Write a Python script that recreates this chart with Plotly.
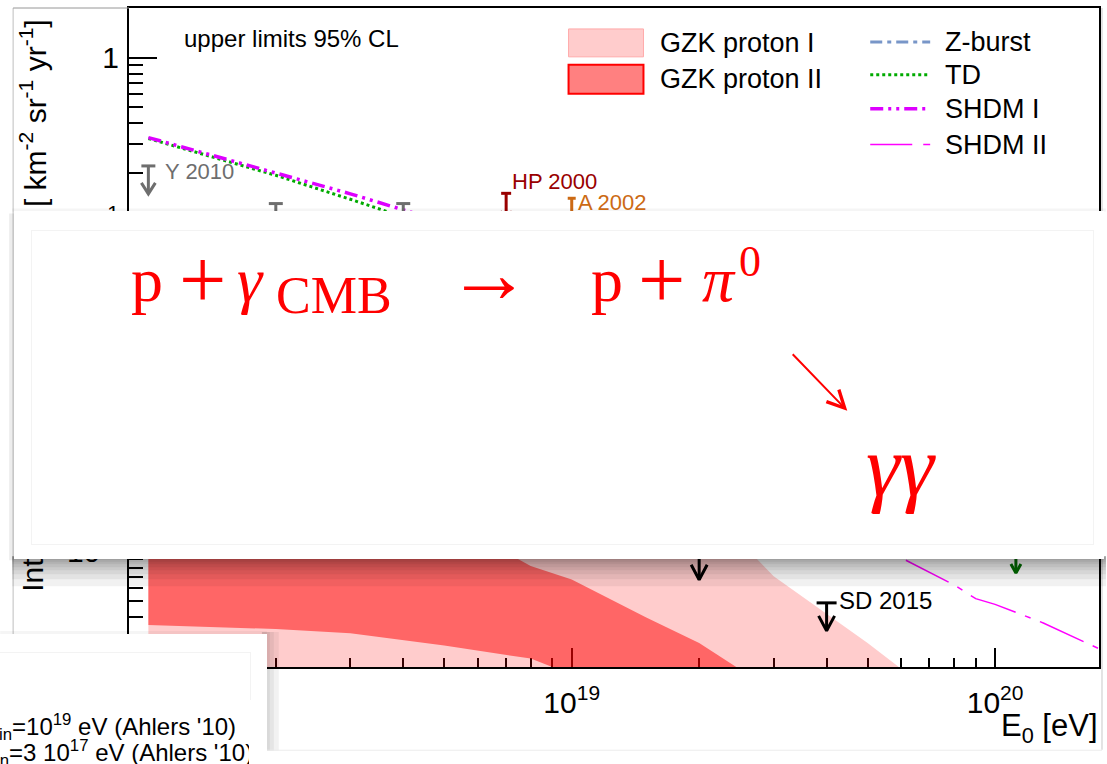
import numpy as np
import plotly.graph_objects as go

W, H = 1107, 764
L, R, T, B = 129, 7, 6, 97          # frame: x 129..1100, y 6..667

# ---------------- data (E in eV, flux in km^-2 sr^-1 yr^-1) ----------------
gzk_E = [1e18, 2e18, 3e18, 5e18, 8e18, 1e19, 1.5e19, 2e19, 2.5e19, 3e19, 5e19, 1e20, 1.75e20]
gzk1_hi = [2.5e-2, 1.78e-2, 1.41e-2, 8.9e-3, 5.0e-3, 3.55e-3, 1.78e-3, 1.41e-3, 1.15e-3, 7.1e-4, 2.8e-4, 7.1e-5, 1.6e-5]
gzk1_lo = [1.0e-4, 7.9e-5, 7.1e-5, 5.6e-5, 4.5e-5, 4.0e-5, 2.8e-5, 2.2e-5, 1.8e-5, 1.6e-5, 1.0e-5, 2.5e-6, 1.0e-6]
gzk2_hi = [5.0e-3, 3.55e-3, 2.5e-3, 1.6e-3, 8.2e-4, 6.8e-4, 4.0e-4, 2.8e-4, 1.93e-4, 1.4e-4, 5.0e-5, 1.26e-5, 5.0e-6]
gzk2_lo = [3.6e-4, 3.4e-4, 3.2e-4, 2.7e-4, 2.25e-4, 1.8e-4, 1.0e-4, 6.3e-5, 5.0e-5, 4.0e-5, 2.0e-5, 6.3e-6, 3.2e-6]

model_E = [1e18, 2e18, 3e18, 5e18, 1e19, 3e19, 1e20, 1.75e20]
zburst_flux = [3.0e-2, 2.6e-2, 2.3e-2, 1.9e-2, 1.4e-2, 6.0e-3, 2.2e-3, 1.5e-3]
td_flux = [0.323, 0.193, 0.138, 0.089, 0.045, 0.018, 0.0075, 0.005]
shdm1_flux = [0.327, 0.198, 0.149, 0.10, 0.06, 0.03, 0.013, 0.009]

shdm2_E = [1e19, 2e19, 3e19, 5e19, 6e19, 8e19, 9e19, 1e20, 1.3e20, 1.75e20]
shdm2_flux = [8e-3, 4e-3, 2.5e-3, 1.2e-3, 9.2e-4, 6.3e-4, 5.2e-4, 4.8e-4, 3.7e-4, 2.6e-4]

# upper limits
y2010_E, y2010_F = [1e18, 2e18, 4e18], [0.22, 0.13, 0.13]
hp2000_E, hp2000_F = [7e18], [0.15]
a2002_E, a2002_F = [1e19], [0.14]
sd2015_E, sd2015_F = [1e19, 2e19, 4e19], [1.9e-3, 1.0e-3, 4.9e-4]
other_E, other_F = [1.12e20], [1.1e-3]

xrange_log = [np.log10(9e17), np.log10(1.76e20)]
yrange_log = [np.log10(2e-4), np.log10(2)]
XDEC = (W - L - R) / (xrange_log[1] - xrange_log[0])   # px per decade
YDEC = (H - T - B) / (yrange_log[1] - yrange_log[0])


def px(x):
    return (x - L) / (W - L - R)


def py(y):
    return (H - B - y) / (H - T - B)


def ul_path(E, F, bar=7, head_w=7, head_h=11, length=28):
    xs, ys = [], []
    for e, f in zip(E, F):
        db, dh = bar / XDEC, head_w / XDEC
        dl, dhh = length / YDEC, head_h / YDEC
        tip = f * 10 ** -dl
        xs += [e * 10 ** -db, e * 10 ** db, None, e, e, None,
               e * 10 ** -dh, e, e * 10 ** dh, None]
        ys += [f, f, None, f, tip, None,
               tip * 10 ** dhh, tip, tip * 10 ** dhh, None]
    return xs, ys


fig = go.Figure()

# GZK bands
fig.add_trace(go.Scatter(x=gzk_E + gzk_E[::-1], y=gzk1_hi + gzk1_lo[::-1], fill="toself",
                         fillcolor="rgba(255,0,0,0.2)", line=dict(width=0), mode="lines"))
fig.add_trace(go.Scatter(x=gzk_E + gzk_E[::-1], y=gzk2_hi + gzk2_lo[::-1], fill="toself",
                         fillcolor="rgba(255,0,0,0.5)", line=dict(width=0), mode="lines"))

# model lines
fig.add_trace(go.Scatter(x=model_E, y=zburst_flux, mode="lines",
                         line=dict(color="rgb(120,150,200)", width=3, dash="12px,5px,4px,5px")))
fig.add_trace(go.Scatter(x=model_E, y=td_flux, mode="lines",
                         line=dict(color="rgb(0,170,0)", width=3, dash="3px,3px")))
fig.add_trace(go.Scatter(x=model_E, y=shdm1_flux, mode="lines",
                         line=dict(color="rgb(221,0,255)", width=3.5, dash="13px,5px,3px,5px,3px,5px")))
fig.add_trace(go.Scatter(x=shdm2_E, y=shdm2_flux, mode="lines",
                         line=dict(color="rgb(255,0,255)", width=1.5, dash="48px,10px,6px,10px")))

# upper limit arrows
for E, F, col, kw in [
    (y2010_E, y2010_F, "rgb(110,110,110)", dict(bar=7, head_w=7, head_h=11)),
    (hp2000_E, hp2000_F, "rgb(153,0,0)", dict(bar=5, head_w=6, head_h=10)),
    (a2002_E, a2002_F, "rgb(204,106,20)", dict(bar=4, head_w=6, head_h=10)),
    (sd2015_E, sd2015_F, "black", dict(bar=10, head_w=8, head_h=15)),
    (other_E, other_F, "rgb(0,110,0)", dict(bar=5, head_w=5, head_h=9)),
]:
    xs, ys = ul_path(E, F, **kw)
    fig.add_trace(go.Scatter(x=xs, y=ys, mode="lines", line=dict(color=col, width=3)))

minor_x = [k * 10.0 ** e for e in (17, 18, 19, 20) for k in range(2, 10)]
minor_y = [k * 10.0 ** e for e in (-4, -3, -2, -1, 0) for k in range(2, 10)]

fig.update_xaxes(type="log", range=xrange_log, showgrid=False, zeroline=False,
                 showline=True, linecolor="black", linewidth=2, mirror=True,
                 ticks="inside", ticklen=19, tickwidth=1.5, tickcolor="black",
                 tickvals=[1e18, 1e19, 1e20],
                 ticktext=["10<sup>18</sup>", "10<sup>19</sup>", "10<sup>20</sup>"],
                 ticklabelstandoff=8, layer="below traces",
                 tickfont=dict(family="Liberation Sans, Arial", size=30, color="black"),
                 minor=dict(tickmode="array", tickvals=minor_x, ticks="inside",
                            ticklen=9, tickwidth=1.5, tickcolor="black"))
fig.update_yaxes(type="log", range=yrange_log, showgrid=False, zeroline=False,
                 showline=True, linecolor="black", linewidth=2, mirror=True,
                 ticks="inside", ticklen=28, tickwidth=1.5, tickcolor="black",
                 tickvals=[1e-3, 1e-2, 1e-1, 1],
                 ticktext=["10<sup>-3</sup>", "10<sup>-2</sup>", "10<sup>-1</sup>", "1"],
                 ticklabelstandoff=2, layer="below traces",
                 tickfont=dict(family="Liberation Sans, Arial", size=30, color="black"),
                 minor=dict(tickmode="array", tickvals=minor_y, ticks="inside",
                            ticklen=14, tickwidth=1.5, tickcolor="black"))

SANS = "Liberation Sans, Arial"
SERIF = "Liberation Serif, Times New Roman"
RED = "rgb(255,0,0)"
ann = []
shapes = []


def text(t, x, y, size, color="black", xa="left", ya="middle", family=SANS, angle=0):
    ann.append(dict(text=t, x=px(x), y=py(y), xref="paper", yref="paper", xanchor=xa, yanchor=ya,
                    showarrow=False, textangle=angle, borderpad=0,
                    font=dict(family=family, size=size, color=color)))


def box(x0, y0, x1, y1, bg="white", border="rgba(0,0,0,0)"):
    ann.append(dict(text=" ", x=px(x0), y=py(y0), xref="paper", yref="paper", xanchor="left",
                    yanchor="top", showarrow=False, width=x1 - x0, height=y1 - y0,
                    bgcolor=bg, bordercolor=border, borderwidth=1 if border != "rgba(0,0,0,0)" else 0,
                    borderpad=0))


def hline(x0, x1, y, color, width, dash="solid"):
    shapes.append(dict(type="line", xref="paper", yref="paper", x0=px(x0), x1=px(x1), y0=py(y), y1=py(y),
                       line=dict(color=color, width=width, dash=dash), layer="above"))


def rect(x0, y0, x1, y1, fill, line=None, lw=0):
    shapes.append(dict(type="rect", xref="paper", yref="paper", x0=px(x0), x1=px(x1), y0=py(y1), y1=py(y0),
                       fillcolor=fill, line=dict(color=line or fill, width=lw), layer="above"))


# labels on the plot
text("upper limits 95% CL", 183, 37, 24)
text("Y 2010", 164, 170, 22, "rgb(110,110,110)")
text("HP 2000", 511, 180, 22, "rgb(153,0,0)")
text("A 2002", 577, 201, 22, "rgb(204,106,20)")
text("SD 2015", 839, 600, 24)
text("E<sub>0</sub> [eV]", 1100, 728, 31, xa="right")

# axis title pieces (the middle is hidden under the overlay)
text("Integral photon flux", 33, 593, 30, xa="center", ya="bottom", angle=-90)
text("[ km<sup>-2</sup> sr<sup>-1</sup> yr<sup>-1</sup>]", 33, 16, 30, xa="center", ya="top", angle=-90)

# legend
rect(569, 27, 644, 55, "rgb(255,204,204)", "rgb(255,170,170)", 1)
rect(569, 63, 644, 92, "rgb(255,128,128)", "rgb(255,0,0)", 2)
text("GZK proton I", 660, 41, 27)
text("GZK proton II", 660, 77, 27)
hline(871, 931, 40, "rgb(120,150,200)", 3, "12px,5px,4px,5px")
hline(871, 931, 73, "rgb(0,170,0)", 3, "3px,3px")
hline(871, 931, 107, "rgb(221,0,255)", 3.5, "13px,5px,3px,5px,3px,5px")
hline(871, 931, 143, "rgb(255,0,255)", 1.5, "42px,11px,7px,11px")
text("Z-burst", 945, 40, 27)
text("TD", 945, 73, 27)
text("SHDM I", 945, 107, 27)
text("SHDM II", 945, 143, 27)

# slide image border
shapes.append(dict(type="line", xref="paper", yref="paper", x0=px(13), x1=px(13), y0=py(6), y1=py(750),
                   line=dict(color="rgb(190,190,190)", width=1), layer="above"))
hline(13, 129, 6, "rgb(150,150,150)", 1)
shapes.append(dict(type="line", xref="paper", yref="paper", x0=px(1103), x1=px(1103), y0=py(6), y1=py(750),
                   line=dict(color="rgb(200,200,200)", width=1), layer="above"))

# shadows of the overlay panels
for h in (2, 4, 6, 9, 12, 16, 21, 28):
    rect(12, 556, 1107, 558 + h, "rgba(0,0,0,0.055)")
rect(9, 212, 14, 560, "rgba(0,0,0,0.07)")
rect(12, 207, 1107, 210, "rgba(0,0,0,0.04)")
for w in (3, 7, 12):
    rect(262, 632, 267 + w, 764, "rgba(0,0,0,0.05)")
rect(0, 631, 267, 634, "rgba(0,0,0,0.04)")

# the plot picture ends at y=750; below it is the blank slide
box(267, 751, 1107, 770)
hline(13, 1103, 750.5, "rgb(236,236,236)", 1)

# overlay panel with the reaction
box(14, 210, 1104, 558)
box(31, 229, 1092, 542, bg="rgba(0,0,0,0)", border="rgb(243,243,243)")


def eq(t, x, base, size, family=SERIF):
    text(t, x, base - 0.3375 * size, size, RED, family=family)


eq("p", 130, 300, 64)
eq("+", 178, 307, 84)
eq("<i>γ</i>", 236, 300, 64)
eq("CMB", 275, 312, 52)
eq("→", 446, 301, 84)
eq("p", 590, 300, 64)
eq("+", 638, 307, 84)
eq("<i>π</i>", 702, 300, 64)
eq("0", 739, 275, 44)
eq("<i>γγ</i>", 866, 494, 86)
ann.append(dict(x=px(848), y=py(410), ax=-56, ay=-58, xref="paper", yref="paper",
                axref="pixel", ayref="pixel", text="", showarrow=True, arrowhead=5,
                arrowsize=1.7, arrowwidth=2, arrowcolor=RED))

# bottom-left overlay (legend of another figure, mostly off-screen)
box(-10, 634, 267, 780)
box(-10, 652, 249, 780, bg="rgba(0,0,0,0)", border="rgb(243,243,243)")
text("E<sub>min</sub>=10<sup>19</sup> eV (Ahlers '10)", 237, 727, 24, xa="right")
text("E<sub>min</sub>=3 10<sup>17</sup> eV (Ahlers '10)", 254, 753, 24, xa="right")
box(249, 700, 266, 764)

fig.update_layout(width=W, height=H, margin=dict(l=L, r=R, t=T, b=B),
                  paper_bgcolor="white", plot_bgcolor="white", showlegend=False,
                  annotations=ann, shapes=shapes)

fig.write_html("out.html", config={"displayModeBar": False},
               post_script="document.body.style.margin='0';")
